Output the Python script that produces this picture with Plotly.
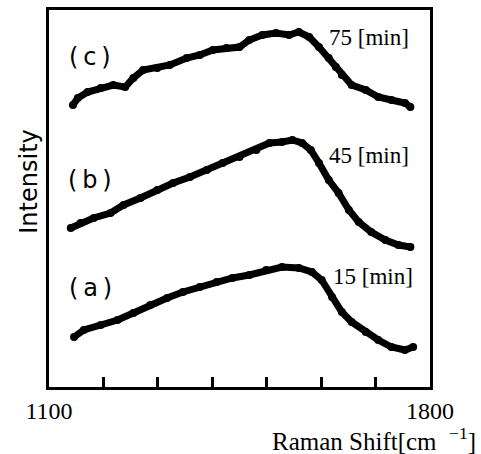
import plotly.graph_objects as go

# Raman shift (cm^-1) and intensity (arbitrary, offset per spectrum)
wn_a = [1146, 1164, 1195, 1226, 1255, 1286, 1317, 1346, 1377, 1408, 1437, 1468, 1499,
        1528, 1559, 1583, 1601, 1620, 1638, 1656, 1682, 1705, 1729, 1754, 1769]
int_a = [51, 58, 63, 68, 75, 83, 90, 96, 101, 106, 110, 113, 118,
         121, 120, 116, 108, 91, 76, 66, 56, 48, 41, 38, 41]

wn_b = [1140, 1158, 1182, 1213, 1237, 1268, 1299, 1328, 1359, 1390, 1419, 1450, 1481,
        1505, 1528, 1547, 1565, 1581, 1596, 1614, 1632, 1651, 1669, 1692, 1718, 1742, 1764]
int_b = [160, 165, 170, 175, 183, 190, 198, 205, 211, 218, 225, 231, 238,
         245, 246, 248, 245, 238, 225, 208, 195, 178, 166, 156, 148, 143, 141]

wn_c = [1144, 1153, 1171, 1195, 1218, 1240, 1255, 1273, 1299, 1322, 1353, 1377, 1401,
        1426, 1450, 1468, 1492, 1517, 1541, 1559, 1578, 1596, 1614, 1627, 1638, 1656,
        1682, 1705, 1729, 1754, 1764]
int_c = [283, 290, 296, 300, 303, 301, 310, 318, 320, 323, 330, 333, 338,
         340, 341, 348, 353, 355, 353, 356, 351, 341, 330, 321, 313, 303,
         298, 291, 288, 285, 281]

series = [("(a)", "15 [min]", wn_a, int_a),
          ("(b)", "45 [min]", wn_b, int_b),
          ("(c)", "75 [min]", wn_c, int_c)]

x_tickvals = [1100, 1200, 1300, 1400, 1500, 1600, 1700, 1800]
x_ticktext = ["1100", "", "", "", "", "", "", "1800"]

fig = go.Figure()
for name, tlabel, x, y in series:
    fig.add_trace(go.Scatter(x=x, y=y, mode="lines+markers", name=name,
                             line=dict(color="black", width=7),
                             marker=dict(color="black", size=8),
                             showlegend=False))

serif = "Liberation Serif"
sans = "DejaVu Sans"
ts = "\u2009"
# letter labels
for lab, yv in [("(" + ts + "c" + ts + ")", 331), ("(" + ts + "b" + ts + ")", 208), ("(" + ts + "a" + ts + ")", 100)]:
    fig.add_annotation(x=1176, y=yv, xref="x", yref="y", text=lab, showarrow=False,
                       font=dict(family=sans, size=24, color="black"))
# time labels
for lab, xv, yv in [("75 [min]", 1687, 351), ("45 [min]", 1687, 233), ("15 [min]", 1696, 112)]:
    fig.add_annotation(x=xv, y=yv, xref="x", yref="y", text=lab, showarrow=False,
                       font=dict(family=serif, size=23, color="black"))

fig.add_annotation(x=1.126, y=-0.138, xref="paper", yref="paper", xanchor="right", yanchor="middle",
                   text="Raman Shift[cm  <sup>−1</sup>]", showarrow=False,
                   font=dict(family=serif, size=25, color="black"))
fig.add_annotation(x=-0.095, y=0.544, xref="paper", yref="paper", textangle=-90,
                   text="Intensity", showarrow=False,
                   font=dict(family=sans, size=24, color="black"))

fig.update_xaxes(range=[1100, 1800], showline=True, mirror=True, linecolor="black", linewidth=3,
                 ticks="inside", tickvals=x_tickvals, ticktext=x_ticktext, ticklen=10, tickwidth=3,
                 tickcolor="black", showgrid=False, zeroline=False, automargin=False,
                 tickfont=dict(family=serif, size=24, color="black"))
fig.update_yaxes(range=[1, 378], showline=True, mirror=True, linecolor="black", linewidth=3,
                 showticklabels=False, ticks="", showgrid=False, zeroline=False, automargin=False)

fig.update_layout(width=481, height=454, margin=dict(l=49, r=51, t=10, b=67, autoexpand=False),
                  plot_bgcolor="white", paper_bgcolor="white")
fig.write_html("out.html", config={"displayModeBar": False},
               post_script="document.body.style.margin='0';document.body.style.overflow='hidden';")
